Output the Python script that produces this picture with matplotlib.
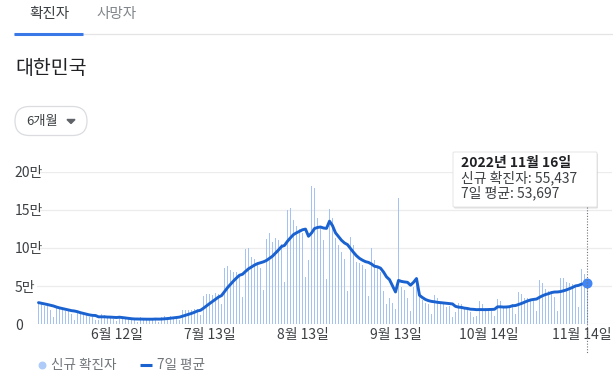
import pandas as pd
import matplotlib
matplotlib.use("Agg")
from matplotlib import pyplot as plt
from matplotlib.patches import FancyBboxPatch, Polygon

plt.rcParams['font.family'] = ['Noto Sans CJK KR', 'DejaVu Sans']

# daily data, first day 2022-05-17
start_date = "2022-05-17"
new_cases = [
    29600, 26300, 23900, 25100, 19300, 9900, 24000,
    22200, 20000, 18000, 17200, 14000, 6100, 18000,
    13400, 12500, 12000, 10000, 9800, 5000, 6200,
    13300, 12100, 10100, 9300, 7400, 3800, 9400,
    9200, 8000, 7200, 6100, 5000, 3500, 9300,
    8400, 7400, 7200, 6200, 6000, 3400, 9800,
    10400, 9600, 10700, 10000, 9000, 6200, 18100,
    19300, 18500, 19300, 20400, 20400, 12700, 37300,
    40200, 39200, 38800, 41300, 40300, 26300, 73600,
    76400, 71100, 68600, 68500, 65400, 35900, 99300,
    100300, 88400, 85300, 82000, 73600, 44700, 111800,
    119900, 107900, 112900, 110700, 105500, 55300, 149900,
    151800, 137200, 128700, 124600, 119600, 62100, 84100,
    180800, 178600, 138800, 128700, 110000, 59000, 150500,
    139300, 113000, 103900, 95000, 85300, 44000, 115000,
    103900, 81500, 80000, 78000, 72000, 37500, 99800,
    84000, 76000, 68000, 43000, 27000, 35000, 28000,
    20000, 165000, 49000, 45000, 34000, 18000, 49000,
    52000, 36000, 32000, 28000, 26000, 14000, 38000,
    35000, 29000, 28000, 23000, 24000, 9600, 16000,
    28000, 26000, 22000, 19000, 16000, 9000, 11000,
    30000, 26000, 22000, 20000, 18000, 11000, 33000,
    30000, 24000, 23000, 23000, 26000, 13000, 42000,
    40000, 35000, 35000, 32000, 31000, 17000, 58000,
    54000, 46000, 43000, 42000, 36000, 18000, 61000,
    61000, 55000, 54000, 53000, 50000, 23000, 72000,
    66000, 55437,
]
avg_7day = [
    28400, 27600, 26700, 25900, 24900, 24000, 22600,
    21500, 20600, 19800, 18700, 17900, 17400, 16500,
    15200, 14200, 13300, 12300, 11700, 11500, 9800,
    9800, 9800, 9500, 9400, 9100, 8900, 9300,
    8800, 8200, 7800, 7300, 7000, 6900, 6900,
    6800, 6700, 6700, 6700, 6900, 6800, 6900,
    7200, 7500, 8000, 8600, 9000, 9400, 10600,
    11800, 13100, 14300, 15800, 17500, 18400, 21100,
    24100, 27100, 29900, 32800, 35700, 37600, 42800,
    48000, 52500, 56800, 60700, 64300, 65600, 69300,
    72700, 75200, 77600, 79500, 80700, 81900, 83700,
    86500, 89300, 93300, 97400, 101900, 103400, 108900,
    113400, 117600, 119900, 121900, 123900, 124800, 115400,
    119600, 125500, 126900, 127500, 126200, 125700, 135200,
    129300, 119900, 114900, 110100, 106600, 104400, 99400,
    94300, 89800, 86400, 84000, 82100, 81100, 79000,
    76100, 75300, 73600, 68600, 62200, 58500, 50500,
    42400, 57500, 56200, 55500, 55000, 51200, 55000,
    60000, 38000, 35000, 32500, 31000, 30000, 29500,
    28800, 28400, 28000, 27600, 27300, 26700, 23500,
    22500, 22100, 21200, 20700, 19800, 19600, 19200,
    19300, 19200, 19200, 19300, 19500, 19700, 22900,
    22900, 22600, 22700, 23100, 24300, 24600, 25900,
    27300, 28900, 30600, 31900, 32600, 33100, 35400,
    37400, 39000, 40100, 41600, 42300, 42400, 42900,
    43900, 45100, 46700, 48300, 50300, 51000, 52600,
    53300, 53697,
]
tick_dates = ["2022-06-12", "2022-07-13", "2022-08-13", "2022-09-13",
              "2022-10-14", "2022-11-14"]
tick_labels = ["6월 12일", "7월 13일", "8월 13일", "9월 13일", "10월 14일", "11월 14일"]
y_ticks = [0, 50000, 100000, 150000, 200000]
y_labels = ["0", "5만", "10만", "15만", "20만"]

dates = pd.date_range(start_date, periods=len(new_cases), freq="D")

W, H = 613, 385
fig = plt.figure(figsize=(W / 100, H / 100), dpi=100)

# chart area in pixel terms
left, right, top, bottom = 37, 612, 171.7, 324.3
ax = fig.add_axes([left / W, 1 - bottom / H, (right - left) / W, (bottom - top) / H])
ax.bar(dates, new_cases, width=0.62, color="#a4c2f4", lw=0, zorder=2)
ax.plot(dates, avg_7day, color="#1a62d0", lw=2.1, zorder=3, solid_capstyle="round")
ax.scatter([dates[-1]], [avg_7day[-1]], s=38, color="#4285f4", zorder=4)

ax.set_xlim(dates[0] - pd.Timedelta(days=0.5), dates[0] + pd.Timedelta(days=(right - left) / 3 - 0.5))
ax.set_ylim(0, 200000)
ax.set_xticks(pd.to_datetime(tick_dates))
ax.set_xticklabels(tick_labels)
ax.set_yticks(y_ticks)
ax.set_yticklabels(y_labels)
ax.tick_params(axis="x", length=0, pad=3, labelsize=10, colors="#3c4043")
ax.tick_params(axis="y", length=0, pad=16, labelsize=10, colors="#3c4043")
for lbl in ax.get_yticklabels():
    lbl.set_horizontalalignment("left")
ax.grid(axis="y", color="#ececec", lw=0.9, zorder=0)
for s in ax.spines.values():
    s.set_visible(False)
ax.patch.set_alpha(0)

# overlay in pixel coordinates for page furniture
ov = fig.add_axes([0, 0, 1, 1], zorder=5)
ov.set_xlim(0, W)
ov.set_ylim(H, 0)
ov.axis("off")
ov.patch.set_alpha(0)

ov.text(49, 14, "확진자", fontsize=10.5, color="#3c4043", ha="center", va="center")
ov.text(117, 14, "사망자", fontsize=10.5, color="#80868b", ha="center", va="center")
ov.plot([14, W], [34, 34], color="#e4e4e4", lw=0.9)
ov.plot([14, 83], [33.5, 33.5], color="#3b78e7", lw=2.2, solid_capstyle="butt")

ov.text(15, 69, "대한민국", fontsize=14, color="#202124", ha="left", va="center")

btn = FancyBboxPatch((15, 106.5), 72, 29, boxstyle="round,pad=0,rounding_size=14.5",
                     fc="white", ec="#dadce0", lw=0.9)
ov.add_patch(btn)
ov.text(26, 121, "6개월", fontsize=9.5, color="#3c4043", ha="left", va="center")
ov.add_patch(Polygon([[67, 119.5], [75, 119.5], [71, 123.5]], closed=True, color="#5f6368"))

# legend
ov.scatter([42], [365], s=22, color="#aecbfa")
ov.text(51, 365, "신규 확진자", fontsize=9.8, color="#70757a", ha="left", va="center")
ov.plot([140, 152], [365, 365], color="#1a62d0", lw=2.2, solid_capstyle="butt")
ov.text(157, 365, "7일 평균", fontsize=9.8, color="#70757a", ha="left", va="center")

# hover line and tooltip
ov.plot([587, 587], [207, 353], color="#70757a", lw=0.8, ls=(0, (1, 1.5)))
shadow = FancyBboxPatch((454, 153.5), 144, 55, boxstyle="round,pad=0,rounding_size=1",
                        fc="#000000", ec="none", alpha=0.12)
ov.add_patch(shadow)
tip = FancyBboxPatch((453, 152), 144, 55, boxstyle="round,pad=0,rounding_size=1",
                     fc="white", ec="#e0e0e0", lw=0.6)
ov.add_patch(tip)
ov.text(461, 163, "2022년 11월 16일", fontsize=10, fontweight="bold", color="#202124",
        ha="left", va="center")
ov.text(461, 178, "신규 확진자: 55,437", fontsize=10, color="#3c4043", ha="left", va="center")
ov.text(461, 193, "7일 평균: 53,697", fontsize=10, color="#3c4043", ha="left", va="center")

fig.savefig("out.png", dpi=100)
